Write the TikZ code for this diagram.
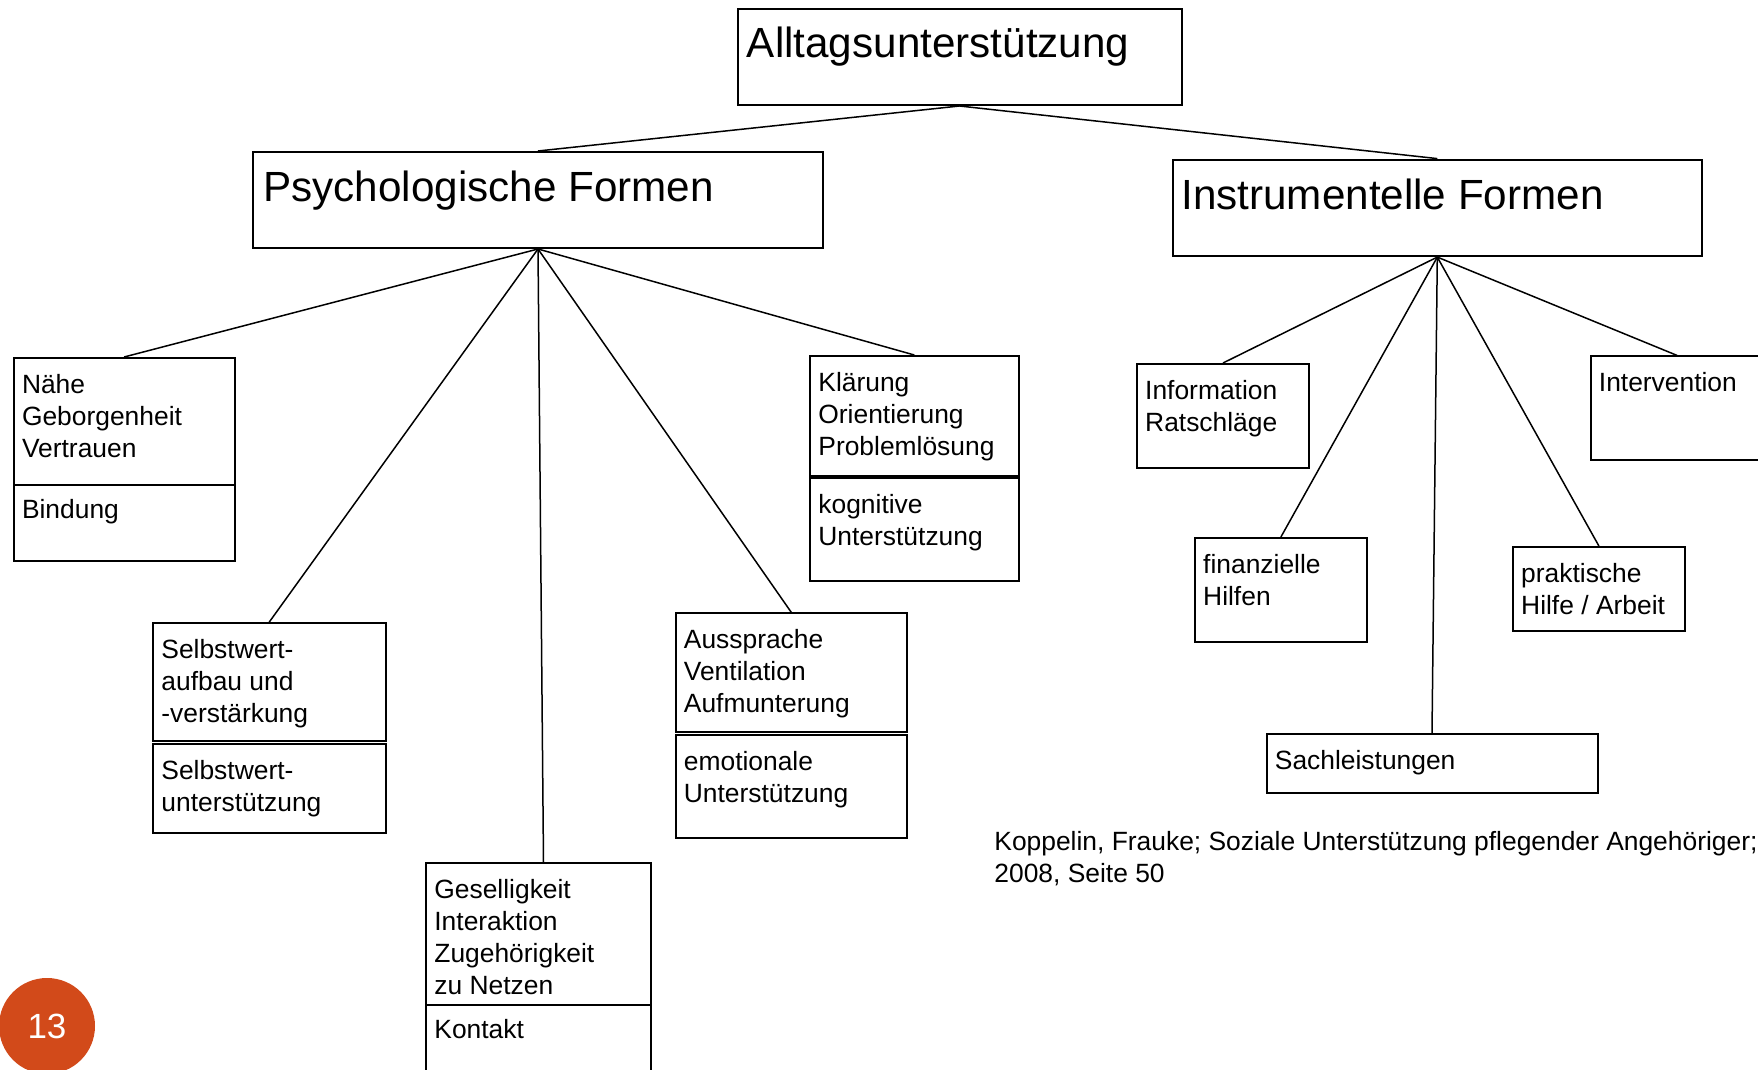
\documentclass[tikz,border=0pt]{standalone}
\usepackage{fontspec}
\setmainfont{Liberation Sans}
\definecolor{seitenrot}{RGB}{210,74,26}
\tikzset{
	kasten/.style={draw, line width=1pt, inner sep=0pt, anchor=north west},
	titel/.style={font=\fontsize{21.1}{25}\selectfont, inner sep=0pt, anchor=base west},
	eintrag/.style={font=\fontsize{13.2}{16}\selectfont, align=left, inner sep=0pt, anchor=north west},
	ast/.style={line width=0.75pt},
}
\begin{document}
\begin{tikzpicture}[x=0.5pt, y=-0.5pt]
		\useasboundingbox (0,0) rectangle (1758,1070);
		% obere Ebene
		\node[kasten, minimum width=222pt, minimum height=48pt] (alltag) at (736.5,8) {};
		\node[titel] (talltag) at ([shift={(10,50)}]alltag.north west) {Alltagsunterstützung};
		\node[kasten, minimum width=285pt, minimum height=48pt] (psych) at (252,151) {};
		\node[titel] (tpsych) at ([shift={(11,51)}]psych.north west) {Psychologische Formen};
		\node[kasten, minimum width=264.3pt, minimum height=48.25pt] (instr) at (1172,158.6) {};
		\node[titel] (tinstr) at ([shift={(9,50.5)}]instr.north west) {Instrumentelle Formen};
		\draw[ast] (alltag.south) -- (psych.north);
		\draw[ast] (alltag.south) -- (instr.north);
		% psychologische Formen
		\node[kasten, minimum width=110.5pt, minimum height=63.5pt] (naehe) at (12.6,357) {};
		\node[kasten, minimum width=110.5pt, minimum height=37.75pt] (bindung) at (12.6,484) {};
		\node[eintrag] (tnaehe) at ([shift={(9,17)}]naehe.north west) {Nähe\\Geborgenheit\\Vertrauen};
		\node[eintrag] (tbindung) at ([shift={(9,15)}]bindung.north west) {Bindung};
		\node[kasten, minimum width=104.3pt, minimum height=59.75pt] (klaerung) at (809,355) {};
		\node[kasten, minimum width=104.3pt, minimum height=51.5pt] (kognitiv) at (809,477) {};
		\node[eintrag] (tklaerung) at ([shift={(9,17)}]klaerung.north west) {Klärung\\Orientierung\\Problemlösung};
		\node[eintrag] (tkognitiv) at ([shift={(9,17)}]kognitiv.north west) {kognitive\\Unterstützung};
		\node[kasten, minimum width=116.3pt, minimum height=59.15pt] (selbst) at (152,622) {};
		\node[kasten, minimum width=116.3pt, minimum height=44.65pt] (selbstunt) at (152,743) {};
		\node[eintrag] (tselbst) at ([shift={(9,17)}]selbst.north west) {Selbstwert-\\aufbau und\\-verstärkung};
		\node[eintrag] (tselbstunt) at ([shift={(9,17)}]selbstunt.north west) {Selbstwert-\\unterstützung};
		\node[kasten, minimum width=115.75pt, minimum height=59.2pt] (aussprache) at (674.5,612.3) {};
		\node[kasten, minimum width=115.75pt, minimum height=51.8pt] (emotional) at (674.5,733.7) {};
		\node[eintrag] (taussprache) at ([shift={(9,17)}]aussprache.north west) {Aussprache\\Ventilation\\Aufmunterung};
		\node[eintrag] (temotional) at ([shift={(9,17)}]emotional.north west) {emotionale\\Unterstützung};
		\node[kasten, minimum width=112.5pt, minimum height=70.85pt] (gesellig) at (425,862.3) {};
		\node[kasten, minimum width=112.5pt, minimum height=40pt] (kontakt) at (425,1004) {};
		\node[eintrag] (tgesellig) at ([shift={(9,17)}]gesellig.north west) {Geselligkeit\\Interaktion\\Zugehörigkeit\\zu Netzen};
		\node[eintrag] (tkontakt) at ([shift={(9,15)}]kontakt.north west) {Kontakt};
		\draw[ast] (psych.south) -- (naehe.north);
		\draw[ast] (psych.south) -- (selbst.north);
		\draw[ast] (psych.south) -- ([xshift=2.5pt]gesellig.north);
		\draw[ast] (psych.south) -- (aussprache.north);
		\draw[ast] (psych.south) -- (klaerung.north);
		% instrumentelle Formen
		\node[kasten, minimum width=86.2pt, minimum height=51.9pt] (info) at (1135.8,363) {};
		\node[eintrag] (tinfo) at ([shift={(9,17)}]info.north west) {Information\\Ratschläge};
		\node[kasten, minimum width=86.5pt, minimum height=51.8pt] (interv) at (1589.5,355.4) {};
		\node[eintrag] (tinterv) at ([shift={(9,17)}]interv.north west) {Intervention};
		\node[kasten, minimum width=86.1pt, minimum height=51.85pt] (finanz) at (1193.8,537) {};
		\node[eintrag] (tfinanz) at ([shift={(9,17)}]finanz.north west) {finanzielle\\Hilfen};
		\node[kasten, minimum width=86.1pt, minimum height=42pt] (prakt) at (1511.8,546) {};
		\node[eintrag] (tprakt) at ([shift={(9,17)}]prakt.north west) {praktische\\Hilfe / Arbeit};
		\node[kasten, minimum width=165.5pt, minimum height=29.65pt] (sach) at (1265.5,733) {};
		\node[eintrag] (tsach) at ([shift={(9,17)}]sach.north west) {Sachleistungen};
		\draw[ast] (instr.south) -- (info.north);
		\draw[ast] (instr.south) -- (finanz.north);
		\draw[ast] (instr.south) -- (sach.north);
		\draw[ast] (instr.south) -- (prakt.north);
		\draw[ast] (instr.south) -- (interv.north);
		% Quelle und Seitenzahl
		\node[eintrag] (quelle) at (994,831) {Koppelin, Frauke; Soziale Unterstützung pflegender Angehöriger;\\2008, Seite 50};
		\node[circle, fill=seitenrot, minimum size=48pt, inner sep=0pt, text=white,
			font=\fontsize{17.5}{20}\selectfont] (seite) at (47,1026) {13};
	\end{tikzpicture}
\end{document}
